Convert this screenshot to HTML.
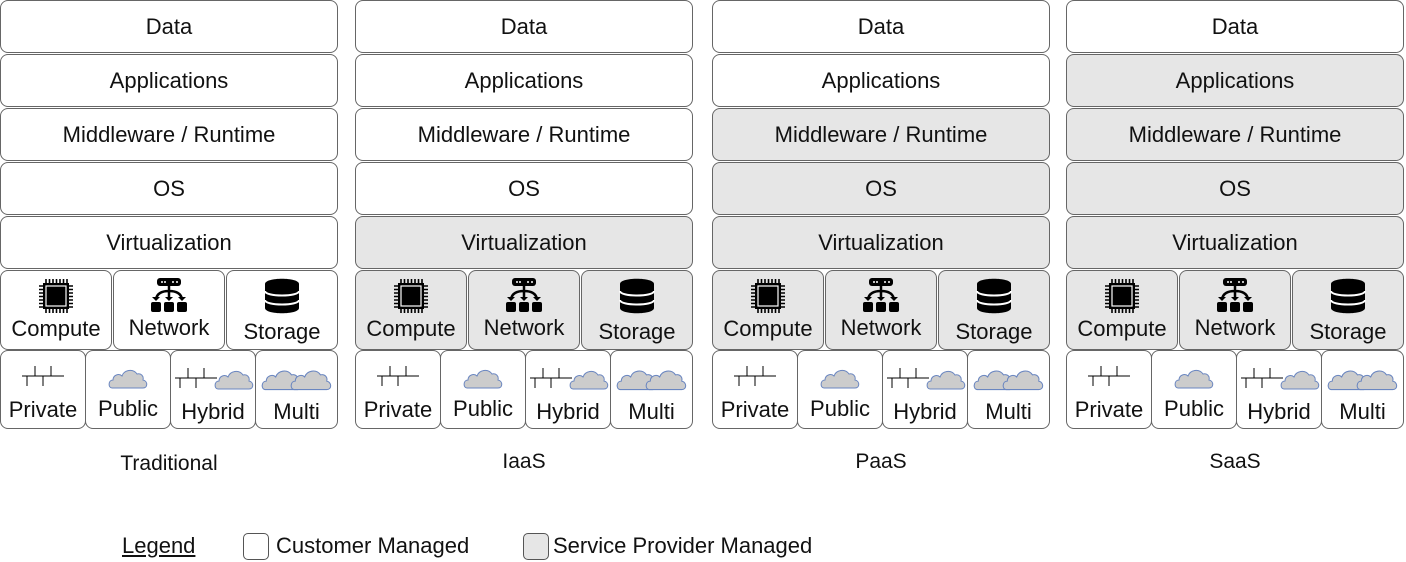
<!DOCTYPE html>
<html><head><meta charset="utf-8"><style>
body{margin:0;width:1406px;height:562px;background:#fff;position:relative;overflow:hidden;font-family:"Liberation Sans",sans-serif;color:#111}
.c{position:absolute;top:0;width:338px;height:440px}
.b{position:absolute;box-sizing:border-box;border:1px solid #666;border-radius:8px;background:#fff;font-size:22px;text-align:center}
.r{left:0;width:338px;height:53px;line-height:51px}
.g{background:#e6e6e6}
.s{top:270px;height:80px;width:112px}
.s svg{position:absolute;left:50%;transform:translateX(-50%)}
.s span{position:absolute;left:-10px;right:-10px}
.k{top:350px;height:79px;width:86px}
.k svg{position:absolute;left:50%;transform:translateX(-50%);top:14px}
.k svg.h{left:3px;transform:none}
.k span{position:absolute;left:-10px;right:-10px}
.lab{position:absolute;top:450px;font-size:21px;text-align:center;width:338px}
</style></head><body>
<svg width="0" height="0" style="position:absolute">
<defs>
<symbol id="chip" viewBox="0 0 36 36"><g fill="#000"><rect x="5" y="5" width="26" height="26"/><g stroke="#000" stroke-width="1.6"><path d="M8 1v4M11.5 1v4M15 1v4M18.5 1v4M22 1v4M25.5 1v4M29 1v4M8 31v4M11.5 31v4M15 31v4M18.5 31v4M22 31v4M25.5 31v4M29 31v4M1 8h4M1 11.5h4M1 15h4M1 18.5h4M1 22h4M1 25.5h4M1 29h4M31 8h4M31 11.5h4M31 15h4M31 18.5h4M31 22h4M31 25.5h4M31 29h4"/></g></g><rect x="8" y="8" width="20" height="20" fill="none" stroke="#fff" stroke-width="1.2"/></symbol>
<symbol id="net" viewBox="0 0 40 36"><rect x="8" y="1" width="24" height="8" rx="3" fill="#000"/><g fill="#fff"><circle cx="13" cy="5" r="1"/><circle cx="16" cy="5" r="1"/><circle cx="24" cy="5" r="1"/><circle cx="28" cy="5" r="1"/></g><path d="M20 9v13M20 14c-8 0-12 3-13 8M20 14c8 0 12 3 13 8" stroke="#000" stroke-width="2.5" fill="none"/><path d="M3 20h8l-4 4zM16 20h8l-4 4zM29 20h8l-4 4z" fill="#000"/><rect x="2" y="25" width="10" height="10" rx="2"/><rect x="15" y="25" width="10" height="10" rx="2"/><rect x="28" y="25" width="10" height="10" rx="2"/></symbol>
<symbol id="db" viewBox="0 0 36 36"><path d="M1 6c0-7 34-7 34 0v24c0 7-34 7-34 0z" fill="#000"/><path d="M1 13c0 6 34 6 34 0M1 22c0 6 34 6 34 0" stroke="#fff" stroke-width="2" fill="none"/></symbol>
<symbol id="cloud" viewBox="0 0 40 24"><path d="M4 23c-4 0-4-8 1-8 0-5 6-7 9-4 2-6 11-8 15-2 4-1 7 2 6 6 5 1 5 8 0 8z" fill="#ccc" stroke="#6a86c0" stroke-width="1"/></symbol>
<symbol id="priv" viewBox="0 0 44 24"><path d="M1 11h42M14 1v10M30 1v10M6 11v10M22 11v10" stroke="#000" stroke-width="1" fill="none"/></symbol>
</defs></svg>

<div class="c" style="left:0">
<div class="b r" style="top:0">Data</div>
<div class="b r" style="top:54px">Applications</div>
<div class="b r" style="top:108px">Middleware / Runtime</div>
<div class="b r" style="top:162px">OS</div>
<div class="b r" style="top:216px">Virtualization</div>
<div class="b s" style="left:0"><svg width="36" height="36" style="top:7px"><use href="#chip"/></svg><span style="top:45px">Compute</span></div>
<div class="b s" style="left:113px"><svg width="40" height="36" style="top:6px"><use href="#net"/></svg><span style="top:44px">Network</span></div>
<div class="b s" style="left:226px"><svg width="36" height="36" style="top:7px"><use href="#db"/></svg><span style="top:48px">Storage</span></div>
<div class="b k" style="left:0"><svg width="44" height="24"><use href="#priv"/></svg><span style="top:46px">Private</span></div>
<div class="b k" style="left:85px"><svg width="40" height="24"><use href="#cloud"/></svg><span style="top:45px">Public</span></div>
<div class="b k" style="left:170px"><svg class="h" width="80" height="26"><use href="#priv" x="0" y="2" width="44" height="24"/><use href="#cloud" x="40" y="0" width="40" height="26"/></svg><span style="top:48px">Hybrid</span></div>
<div class="b k" style="left:255px;width:83px"><svg width="72" height="26"><use href="#cloud" x="0" width="42" height="26"/><use href="#cloud" x="29" width="42" height="26"/></svg><span style="top:48px">Multi</span></div>
</div>
<div class="lab" style="left:0;top:452px">Traditional</div>

<div class="c" style="left:355px">
<div class="b r" style="top:0">Data</div>
<div class="b r" style="top:54px">Applications</div>
<div class="b r" style="top:108px">Middleware / Runtime</div>
<div class="b r" style="top:162px">OS</div>
<div class="b r g" style="top:216px">Virtualization</div>
<div class="b s g" style="left:0"><svg width="36" height="36" style="top:7px"><use href="#chip"/></svg><span style="top:45px">Compute</span></div>
<div class="b s g" style="left:113px"><svg width="40" height="36" style="top:6px"><use href="#net"/></svg><span style="top:44px">Network</span></div>
<div class="b s g" style="left:226px"><svg width="36" height="36" style="top:7px"><use href="#db"/></svg><span style="top:48px">Storage</span></div>
<div class="b k" style="left:0"><svg width="44" height="24"><use href="#priv"/></svg><span style="top:46px">Private</span></div>
<div class="b k" style="left:85px"><svg width="40" height="24"><use href="#cloud"/></svg><span style="top:45px">Public</span></div>
<div class="b k" style="left:170px"><svg class="h" width="80" height="26"><use href="#priv" x="0" y="2" width="44" height="24"/><use href="#cloud" x="40" y="0" width="40" height="26"/></svg><span style="top:48px">Hybrid</span></div>
<div class="b k" style="left:255px;width:83px"><svg width="72" height="26"><use href="#cloud" x="0" width="42" height="26"/><use href="#cloud" x="29" width="42" height="26"/></svg><span style="top:48px">Multi</span></div>
</div>
<div class="lab" style="left:355px">IaaS</div>

<div class="c" style="left:712px">
<div class="b r" style="top:0">Data</div>
<div class="b r" style="top:54px">Applications</div>
<div class="b r g" style="top:108px">Middleware / Runtime</div>
<div class="b r g" style="top:162px">OS</div>
<div class="b r g" style="top:216px">Virtualization</div>
<div class="b s g" style="left:0"><svg width="36" height="36" style="top:7px"><use href="#chip"/></svg><span style="top:45px">Compute</span></div>
<div class="b s g" style="left:113px"><svg width="40" height="36" style="top:6px"><use href="#net"/></svg><span style="top:44px">Network</span></div>
<div class="b s g" style="left:226px"><svg width="36" height="36" style="top:7px"><use href="#db"/></svg><span style="top:48px">Storage</span></div>
<div class="b k" style="left:0"><svg width="44" height="24"><use href="#priv"/></svg><span style="top:46px">Private</span></div>
<div class="b k" style="left:85px"><svg width="40" height="24"><use href="#cloud"/></svg><span style="top:45px">Public</span></div>
<div class="b k" style="left:170px"><svg class="h" width="80" height="26"><use href="#priv" x="0" y="2" width="44" height="24"/><use href="#cloud" x="40" y="0" width="40" height="26"/></svg><span style="top:48px">Hybrid</span></div>
<div class="b k" style="left:255px;width:83px"><svg width="72" height="26"><use href="#cloud" x="0" width="42" height="26"/><use href="#cloud" x="29" width="42" height="26"/></svg><span style="top:48px">Multi</span></div>
</div>
<div class="lab" style="left:712px">PaaS</div>

<div class="c" style="left:1066px">
<div class="b r" style="top:0">Data</div>
<div class="b r g" style="top:54px">Applications</div>
<div class="b r g" style="top:108px">Middleware / Runtime</div>
<div class="b r g" style="top:162px">OS</div>
<div class="b r g" style="top:216px">Virtualization</div>
<div class="b s g" style="left:0"><svg width="36" height="36" style="top:7px"><use href="#chip"/></svg><span style="top:45px">Compute</span></div>
<div class="b s g" style="left:113px"><svg width="40" height="36" style="top:6px"><use href="#net"/></svg><span style="top:44px">Network</span></div>
<div class="b s g" style="left:226px"><svg width="36" height="36" style="top:7px"><use href="#db"/></svg><span style="top:48px">Storage</span></div>
<div class="b k" style="left:0"><svg width="44" height="24"><use href="#priv"/></svg><span style="top:46px">Private</span></div>
<div class="b k" style="left:85px"><svg width="40" height="24"><use href="#cloud"/></svg><span style="top:45px">Public</span></div>
<div class="b k" style="left:170px"><svg class="h" width="80" height="26"><use href="#priv" x="0" y="2" width="44" height="24"/><use href="#cloud" x="40" y="0" width="40" height="26"/></svg><span style="top:48px">Hybrid</span></div>
<div class="b k" style="left:255px;width:83px"><svg width="72" height="26"><use href="#cloud" x="0" width="42" height="26"/><use href="#cloud" x="29" width="42" height="26"/></svg><span style="top:48px">Multi</span></div>
</div>
<div class="lab" style="left:1066px">SaaS</div>

<div style="position:absolute;left:122px;top:533px;font-size:22px;text-decoration:underline">Legend</div>
<div style="position:absolute;left:243px;top:533px;width:26px;height:27px;box-sizing:border-box;border:1px solid #555;border-radius:5px;background:#fff"></div>
<div style="position:absolute;left:276px;top:533px;font-size:22px">Customer Managed</div>
<div style="position:absolute;left:523px;top:533px;width:26px;height:27px;box-sizing:border-box;border:1px solid #555;border-radius:5px;background:#e6e6e6"></div>
<div style="position:absolute;left:553px;top:533px;font-size:22px">Service Provider Managed</div>
</body></html>
